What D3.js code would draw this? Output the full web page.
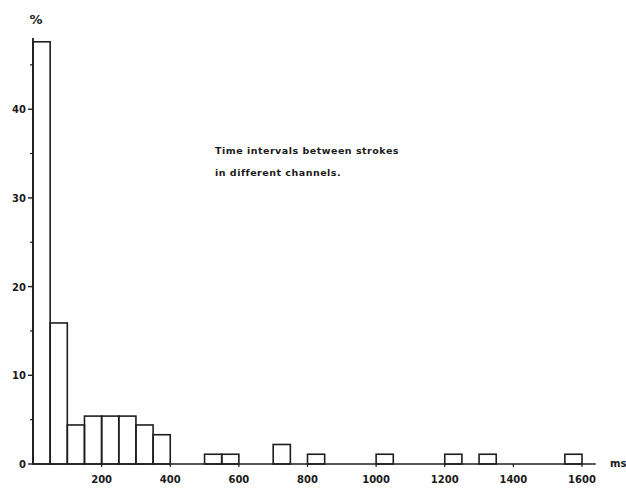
<!DOCTYPE html>
<html>
<head>
<meta charset="utf-8">
<script src="https://cdn.jsdelivr.net/npm/d3@7"></script>
<style>
  body { margin: 0; background: #fff; }
  text { font-family: "DejaVu Sans", sans-serif; fill: #1a1a1a; }
</style>
</head>
<body>
<div id="chart"></div>
<script>
// ---- Data ----
const binStarts = [0, 50, 100, 150, 200, 250, 300, 350, 500, 550, 700, 800, 1000, 1200, 1300, 1550];
const percents  = [47.6, 15.9, 4.4, 5.4, 5.4, 5.4, 4.4, 3.3, 1.1, 1.1, 2.2, 1.1, 1.1, 1.1, 1.1, 1.1];
const binWidth = 50;
const xTicks = [200, 400, 600, 800, 1000, 1200, 1400, 1600];
const yMajor = [0, 10, 20, 30, 40];
const yMinor = [5, 15, 25, 35, 45];
const noteLines = ["Time intervals between strokes", "in different channels."];

const width = 626, height = 488;
const ink = "#1e1e1e";

const svg = d3.select("#chart").append("svg")
    .attr("width", width)
    .attr("height", height);

// ---- Scales ----
const x = d3.scaleLinear().domain([0, 1600]).range([33, 582]);
const y = d3.scaleLinear().domain([0, 50]).range([464, 20.5]);

// ---- Bars ----
svg.selectAll(".bar")
    .data(binStarts.map((s, i) => ({ start: s, value: percents[i] })))
    .enter()
    .append("rect")
    .attr("class", "bar")
    .attr("x", d => x(d.start))
    .attr("y", d => y(d.value))
    .attr("width", d => x(d.start + binWidth) - x(d.start))
    .attr("height", d => y(0) - y(d.value))
    .attr("fill", "none")
    .attr("stroke", ink)
    .attr("stroke-width", 1.6);

// ---- X axis (baseline + ticks) ----
svg.append("line")
    .attr("x1", x(0)).attr("x2", x(1640))
    .attr("y1", y(0)).attr("y2", y(0))
    .attr("stroke", ink)
    .attr("stroke-width", 1.6);

svg.selectAll(".xtick")
    .data(xTicks)
    .enter()
    .append("line")
    .attr("x1", d => x(d)).attr("x2", d => x(d))
    .attr("y1", y(0)).attr("y2", y(0) + 3)
    .attr("stroke", ink)
    .attr("stroke-width", 1.2);

svg.selectAll(".xlabel")
    .data(xTicks)
    .enter()
    .append("text")
    .attr("x", d => x(d))
    .attr("y", y(0) + 19)
    .attr("text-anchor", "middle")
    .style("font-size", "10px")
    .style("font-weight", "bold")
    .text(d => d);

svg.append("text")
    .attr("x", 610)
    .attr("y", y(0) + 3)
    .style("font-size", "10px")
    .style("font-weight", "bold")
    .text("ms");

// ---- Y axis ----
svg.append("line")
    .attr("x1", x(0)).attr("x2", x(0))
    .attr("y1", y(0)).attr("y2", 38)
    .attr("stroke", ink)
    .attr("stroke-width", 1.8);

svg.selectAll(".ymajor")
    .data(yMajor)
    .enter()
    .append("line")
    .attr("x1", x(0) - 5).attr("x2", x(0))
    .attr("y1", d => y(d)).attr("y2", d => y(d))
    .attr("stroke", ink)
    .attr("stroke-width", 1.4);

svg.selectAll(".yminor")
    .data(yMinor)
    .enter()
    .append("line")
    .attr("x1", x(0) - 3).attr("x2", x(0))
    .attr("y1", d => y(d)).attr("y2", d => y(d))
    .attr("stroke", ink)
    .attr("stroke-width", 1.2);

svg.selectAll(".ylabel")
    .data(yMajor)
    .enter()
    .append("text")
    .attr("x", x(0) - 7)
    .attr("y", d => y(d) + 4)
    .attr("text-anchor", "end")
    .style("font-size", "10px")
    .style("font-weight", "bold")
    .text(d => d);

svg.append("text")
    .attr("x", 36)
    .attr("y", 24)
    .attr("text-anchor", "middle")
    .style("font-size", "13px")
    .style("font-weight", "bold")
    .text("%");

// ---- Note ----
svg.selectAll(".note")
    .data(noteLines)
    .enter()
    .append("text")
    .attr("x", 215)
    .attr("y", (d, i) => 154 + i * 22)
    .style("font-size", "9.5px")
    .style("font-weight", "bold")
    .style("letter-spacing", "0.5px")
    .text(d => d);
</script>
</body>
</html>
